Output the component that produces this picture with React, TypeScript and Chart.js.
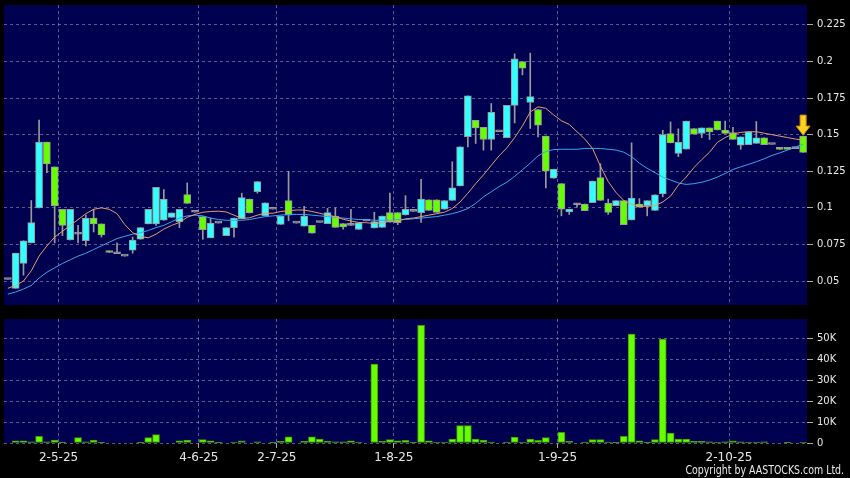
import React, { useEffect, useRef } from 'react';
import { Chart, registerables } from 'chart.js';
Chart.register(...registerables);

// ---------- data (one entry per trading session, index 0..102) ----------
const opens = [
  0.051, 0.045, 0.062, 0.076, 0.100, 0.145, 0.128, 0.099, 0.078, 0.082,
  0.0775, 0.093, 0.089, 0.0705, 0.0686, 0.067, 0.071, 0.0785, 0.089, 0.089,
  0.0915, 0.0935, 0.0905, 0.109, 0.097, 0.094, 0.0795, 0.0895, 0.081, 0.0865,
  0.0925, 0.106, 0.111, 0.0947, 0.099, 0.0887, 0.105, 0.0895, 0.0875, 0.088,
  0.090, 0.0892, 0.0944, 0.0892, 0.088, 0.0852, 0.091, 0.0862, 0.0866, 0.0967,
  0.0967, 0.0951, 0.0976, 0.0967, 0.1055, 0.1055, 0.099, 0.1051, 0.1149, 0.1487,
  0.1598, 0.155, 0.1467, 0.152, 0.148, 0.170, 0.200, 0.172, 0.1672, 0.149,
  0.1202, 0.1165, 0.0972, 0.1021, 0.1026, 0.1036, 0.1206, 0.1033, 0.1015, 0.1049,
  0.0917, 0.1026, 0.1015, 0.0983, 0.1095, 0.1507, 0.1372, 0.140, 0.1542, 0.1508,
  0.1546, 0.1593, 0.1532, 0.1515, 0.1428, 0.1432, 0.144, 0.1478, 0.1433, 0.141,
  0.141, 0.1405, 0.149,
];
const highs = [
  0.051, 0.069, 0.0775, 0.105, 0.160, 0.145, 0.128, 0.099, 0.099, 0.088,
  0.095, 0.099, 0.089, 0.0705, 0.076, 0.067, 0.080, 0.0865, 0.099, 0.114,
  0.1125, 0.0965, 0.099, 0.117, 0.097, 0.094, 0.093, 0.0895, 0.0865, 0.093,
  0.110, 0.106, 0.118, 0.1035, 0.099, 0.0944, 0.125, 0.0895, 0.101, 0.088,
  0.090, 0.0996, 0.0999, 0.0892, 0.099, 0.0897, 0.091, 0.097, 0.0944, 0.110,
  0.0967, 0.1083, 0.0976, 0.1194, 0.1055, 0.1055, 0.105, 0.1315, 0.1417, 0.1766,
  0.1598, 0.155, 0.1713, 0.152, 0.170, 0.2052, 0.200, 0.2057, 0.1672, 0.149,
  0.1264, 0.1165, 0.0991, 0.103, 0.1026, 0.1183, 0.1301, 0.1059, 0.1049, 0.1049,
  0.1444, 0.1063, 0.1049, 0.1089, 0.153, 0.1587, 0.154, 0.1593, 0.1542, 0.1546,
  0.1546, 0.1593, 0.1593, 0.155, 0.1485, 0.1519, 0.159, 0.1478, 0.1433, 0.141,
  0.141, 0.1405, 0.149,
];
const lows = [
  0.051, 0.045, 0.054, 0.076, 0.100, 0.124, 0.076, 0.081, 0.078, 0.076,
  0.074, 0.0835, 0.080, 0.0695, 0.0686, 0.067, 0.069, 0.0785, 0.089, 0.088,
  0.0915, 0.0935, 0.0865, 0.103, 0.097, 0.0785, 0.0795, 0.0895, 0.081, 0.080,
  0.0925, 0.0965, 0.110, 0.0947, 0.099, 0.0887, 0.0912, 0.0895, 0.0875, 0.0826,
  0.090, 0.0892, 0.0866, 0.0855, 0.088, 0.0852, 0.091, 0.0862, 0.0866, 0.0902,
  0.0885, 0.0951, 0.0976, 0.090, 0.0983, 0.0969, 0.099, 0.1051, 0.1149, 0.1417,
  0.144, 0.1394, 0.1394, 0.152, 0.148, 0.158, 0.1909, 0.1542, 0.1485, 0.1136,
  0.1202, 0.0945, 0.0955, 0.1005, 0.098, 0.1036, 0.1051, 0.0955, 0.1015, 0.0885,
  0.0917, 0.1004, 0.0945, 0.0983, 0.1075, 0.1444, 0.135, 0.140, 0.1503, 0.148,
  0.1467, 0.1532, 0.1509, 0.1467, 0.140, 0.1432, 0.144, 0.1432, 0.1433, 0.1399,
  0.1399, 0.1405, 0.1379,
];
const closes = [
  0.051, 0.069, 0.0775, 0.090, 0.145, 0.130, 0.1015, 0.088, 0.099, 0.082,
  0.093, 0.089, 0.0815, 0.0695, 0.0686, 0.067, 0.078, 0.0865, 0.099, 0.114,
  0.106, 0.0965, 0.099, 0.103, 0.097, 0.085, 0.0895, 0.0895, 0.0865, 0.093,
  0.107, 0.0965, 0.118, 0.1035, 0.099, 0.0944, 0.095, 0.0895, 0.0944, 0.0826,
  0.090, 0.0967, 0.0866, 0.0869, 0.088, 0.0897, 0.091, 0.0906, 0.0944, 0.0902,
  0.0899, 0.099, 0.0976, 0.106, 0.0983, 0.0969, 0.105, 0.1136, 0.1417, 0.1766,
  0.1546, 0.1467, 0.1652, 0.152, 0.170, 0.2018, 0.1955, 0.176, 0.1565, 0.125,
  0.1264, 0.0991, 0.0991, 0.1021, 0.098, 0.1183, 0.1051, 0.0969, 0.1049, 0.0885,
  0.1067, 0.1004, 0.1049, 0.1089, 0.150, 0.1444, 0.1447, 0.1593, 0.1503, 0.1546,
  0.1519, 0.1532, 0.1509, 0.1467, 0.1485, 0.1519, 0.1478, 0.1432, 0.1433, 0.1399,
  0.1399, 0.1405, 0.1379,
];
const volumes = [
  0, 1100, 1100, 600, 3200, 600, 1400, 400, 0, 2600,
  600, 1400, 300, 0, 0, 0, 0, 300, 2600, 4000,
  0, 0, 1100, 1400, 0, 1600, 1100, 300, 0, 200,
  1000, 0, 600, 0, 300, 800, 3000, 0, 800, 3000,
  1900, 800, 600, 600, 1100, 200, 0, 37900, 800, 1600,
  1100, 1300, 300, 56500, 1100, 200, 500, 1900, 8300, 8300,
  1900, 1400, 500, 0, 500, 2900, 500, 1900, 1300, 2600,
  0, 5100, 800, 0, 500, 1600, 1600, 500, 300, 3200,
  52300, 1100, 300, 1600, 49900, 4800, 1900, 1900, 800, 800,
  600, 200, 600, 1000, 600, 200, 500, 600, 0, 0,
  300, 0, 200,
];
const maShort = [
  0.045, 0.047, 0.050, 0.057, 0.067, 0.074, 0.080, 0.084, 0.088, 0.092,
  0.096, 0.099, 0.100, 0.099, 0.096, 0.0885, 0.083, 0.0805, 0.0795, 0.082,
  0.0855, 0.088, 0.090, 0.0935, 0.0955, 0.097, 0.0975, 0.0977, 0.0972, 0.095,
  0.0928, 0.0932, 0.095, 0.0963, 0.0963, 0.0975, 0.098, 0.0985, 0.0985, 0.0975,
  0.0963, 0.095, 0.094, 0.0922, 0.091, 0.090, 0.0898, 0.0893, 0.0898, 0.091,
  0.091, 0.0925, 0.093, 0.094, 0.095, 0.096, 0.097, 0.0995, 0.104, 0.110,
  0.1165, 0.1225, 0.129, 0.1355, 0.141, 0.148, 0.156, 0.1655, 0.169, 0.168,
  0.1635, 0.1595, 0.157, 0.152, 0.147, 0.1405, 0.1285, 0.118, 0.1105, 0.105,
  0.1025, 0.101, 0.101, 0.1015, 0.104, 0.108, 0.1155, 0.121, 0.1275, 0.133,
  0.138, 0.1447, 0.148, 0.1505, 0.1515, 0.152, 0.152, 0.151, 0.150, 0.149,
  0.148, 0.147, 0.1463,
];
const maLong = [
  0.041, 0.0425, 0.0445, 0.047, 0.052, 0.056, 0.059, 0.062, 0.0645, 0.067,
  0.069, 0.0715, 0.074, 0.0765, 0.079, 0.0805, 0.082, 0.083, 0.0845, 0.0865,
  0.088, 0.0905, 0.093, 0.0945, 0.095, 0.0945, 0.093, 0.092, 0.0915, 0.0915,
  0.0915, 0.092, 0.093, 0.094, 0.0945, 0.095, 0.0955, 0.0955, 0.0955, 0.095,
  0.0945, 0.094, 0.0935, 0.093, 0.0925, 0.092, 0.092, 0.0915, 0.0915, 0.0915,
  0.092, 0.092, 0.0925, 0.093, 0.0935, 0.094, 0.095, 0.096, 0.0975, 0.0995,
  0.103, 0.1075, 0.111, 0.1145, 0.1175, 0.1215, 0.126, 0.1305, 0.1355, 0.1385,
  0.1398, 0.140, 0.140, 0.140, 0.1406, 0.1406, 0.1406, 0.140, 0.1395, 0.138,
  0.135, 0.1305, 0.127, 0.124, 0.121, 0.119, 0.117, 0.116, 0.1165, 0.1175,
  0.119, 0.121, 0.1235, 0.1262, 0.128, 0.1297, 0.1315, 0.1335, 0.1358, 0.1375,
  0.1395, 0.1415, 0.1435,
];
const dateTickPos = [6.5, 24.5, 34.5, 49.5, 70.5, 92.5];
const dateTickLabels = ['2-5-25', '4-6-25', '2-7-25', '1-8-25', '1-9-25', '2-10-25'];
const priceTicks = [0.05, 0.075, 0.1, 0.125, 0.15, 0.175, 0.2, 0.225];
const volumeTicks = [0, 10000, 20000, 30000, 40000, 50000];

// ---------- styles ----------
const PANEL = '#000050';
const GRID = 'rgba(150,150,185,0.6)';
const TEXT = '#e8e8e8';
const UP = '#33ffff';
const DOWN = '#66ff00';
const EDGE = '#9a9a9a';
const FONT = 'DejaVu Sans';

const panelBg = {
  id: 'panelBg',
  beforeDraw(chart: any) {
    const { ctx, chartArea: a } = chart;
    ctx.save();
    ctx.fillStyle = PANEL;
    ctx.fillRect(a.left, a.top, a.right - a.left, a.bottom - a.top);
    ctx.restore();
  },
};

const lastArrow = {
  id: 'lastArrow',
  afterDatasetsDraw(chart: any) {
    const { ctx, scales } = chart;
    const i = closes.length - 1;
    const x = scales.x.getPixelForValue(i);
    const tip = scales.y.getPixelForValue(highs[i]) - 1;
    ctx.save();
    ctx.beginPath();
    ctx.moveTo(x, tip);
    ctx.lineTo(x - 7, tip - 9);
    ctx.lineTo(x - 3, tip - 9);
    ctx.lineTo(x - 3, tip - 20);
    ctx.lineTo(x + 3, tip - 20);
    ctx.lineTo(x + 3, tip - 9);
    ctx.lineTo(x + 7, tip - 9);
    ctx.closePath();
    ctx.fillStyle = '#ffd21e';
    ctx.fill();
    ctx.strokeStyle = '#d08a00';
    ctx.lineWidth = 1;
    ctx.stroke();
    ctx.restore();
  },
};

const zeroPad = (s: any) => {
  s.paddingTop = 0;
  s.paddingBottom = 0;
  s.paddingLeft = 0;
  s.paddingRight = 0;
};

const xAxis = (withLabels: boolean) => ({
  type: 'linear',
  min: -0.5,
  max: 102.5,
  offset: false,
  afterBuildTicks: (s: any) => {
    s.ticks = dateTickPos.map((v) => ({ value: v }));
  },
  afterFit: (s: any) => {
    s.height = withLabels ? 35 : 0;
    zeroPad(s);
  },
  border: { display: false, dash: [3, 3] },
  grid: {
    color: GRID,
    offset: false,
    drawTicks: withLabels,
    tickLength: 5,
    tickColor: '#aaaaaa',
  },
  ticks: {
    display: withLabels,
    autoSkip: false,
    maxRotation: 0,
    padding: 3,
    color: TEXT,
    font: { family: FONT, size: 12 },
    callback: (v: number) => {
      const k = dateTickPos.indexOf(v);
      return k >= 0 ? dateTickLabels[k] : '';
    },
  },
});

const yAxis = (min: number, max: number, ticks: number[], fmt: (v: number) => string) => ({
  type: 'linear',
  position: 'right',
  min,
  max,
  afterBuildTicks: (s: any) => {
    s.ticks = ticks.map((v) => ({ value: v }));
  },
  afterFit: (s: any) => {
    s.width = 43;
    zeroPad(s);
  },
  border: { display: false, dash: [3, 3] },
  grid: { color: GRID, tickLength: 6, tickColor: '#aaaaaa' },
  ticks: {
    padding: 4,
    color: TEXT,
    font: { family: FONT, size: 10 },
    callback: (v: number) => fmt(v),
  },
});

export default function App() {
  const priceRef = useRef<HTMLCanvasElement>(null);
  const volRef = useRef<HTMLCanvasElement>(null);

  useEffect(() => {
    document.body.style.margin = '0';
    document.body.style.background = '#000';
    const idx = closes.map((_, i) => i);

    const price = new Chart(priceRef.current as HTMLCanvasElement, {
      type: 'bar',
      data: {
        datasets: [
          {
            type: 'line',
            data: idx.map((i) => ({ x: i, y: maShort[i] })),
            borderColor: '#e99a6c',
            borderWidth: 1,
            pointRadius: 0,
            tension: 0,
            order: 0,
          } as any,
          {
            type: 'line',
            data: idx.map((i) => ({ x: i, y: maLong[i] })),
            borderColor: '#3aa6e8',
            borderWidth: 1,
            pointRadius: 0,
            tension: 0,
            order: 1,
          } as any,
          {
            type: 'bar',
            data: idx.map((i) => ({ x: i, y: [opens[i], closes[i]] })),
            backgroundColor: idx.map((i) =>
              closes[i] > opens[i] ? UP : closes[i] < opens[i] ? DOWN : EDGE
            ),
            borderColor: EDGE,
            borderWidth: 1,
            borderSkipped: false,
            barThickness: 7,
            minBarLength: 2,
            grouped: false,
            order: 2,
          } as any,
          {
            type: 'bar',
            data: idx.map((i) => ({ x: i, y: [lows[i], highs[i]] })),
            backgroundColor: EDGE,
            borderWidth: 0,
            barThickness: 1,
            grouped: false,
            order: 3,
          } as any,
        ],
      },
      options: {
        responsive: false,
        animation: false,
        devicePixelRatio: 1,
        events: [],
        layout: { padding: { left: 4, top: 5, bottom: 7, right: 0 } },
        plugins: { legend: { display: false }, tooltip: { enabled: false } },
        scales: {
          x: xAxis(false),
          y: yAxis(0.0336, 0.2386, priceTicks, (v) => String(+v.toFixed(3))),
        } as any,
      },
      plugins: [panelBg, lastArrow],
    });

    const vol = new Chart(volRef.current as HTMLCanvasElement, {
      type: 'bar',
      data: {
        datasets: [
          {
            data: idx.map((i) => ({ x: i, y: volumes[i] })),
            backgroundColor: DOWN,
            borderColor: '#3c9a00',
            borderWidth: 1,
            borderSkipped: false,
            barThickness: 7,
            grouped: false,
          } as any,
        ],
      },
      options: {
        responsive: false,
        animation: false,
        devicePixelRatio: 1,
        events: [],
        layout: { padding: { left: 4, top: 7, bottom: 0, right: 0 } },
        plugins: { legend: { display: false }, tooltip: { enabled: false } },
        scales: {
          x: xAxis(true),
          y: yAxis(0, 59500, volumeTicks, (v) => (v === 0 ? '0' : `${Math.round(v / 1000)}K`)),
        } as any,
      },
      plugins: [panelBg],
    });

    return () => {
      price.destroy();
      vol.destroy();
    };
  }, []);

  return (
    <div style={{ position: 'relative', width: 850, height: 478, background: '#000', overflow: 'hidden' }}>
      <canvas ref={priceRef} width={850} height={312} style={{ position: 'absolute', left: 0, top: 0, display: 'block' }} />
      <canvas ref={volRef} width={850} height={166} style={{ position: 'absolute', left: 0, top: 312, display: 'block' }} />
      <div
        style={{
          position: 'absolute',
          right: 6,
          top: 463,
          color: TEXT,
          fontFamily: '"DejaVu Sans", sans-serif',
          fontSize: 12,
          lineHeight: '14px',
          whiteSpace: 'nowrap',
          transform: 'scaleX(0.785)',
          transformOrigin: 'right center',
        }}
      >
        Copyright by AASTOCKS.com Ltd.
      </div>
    </div>
  );
}
